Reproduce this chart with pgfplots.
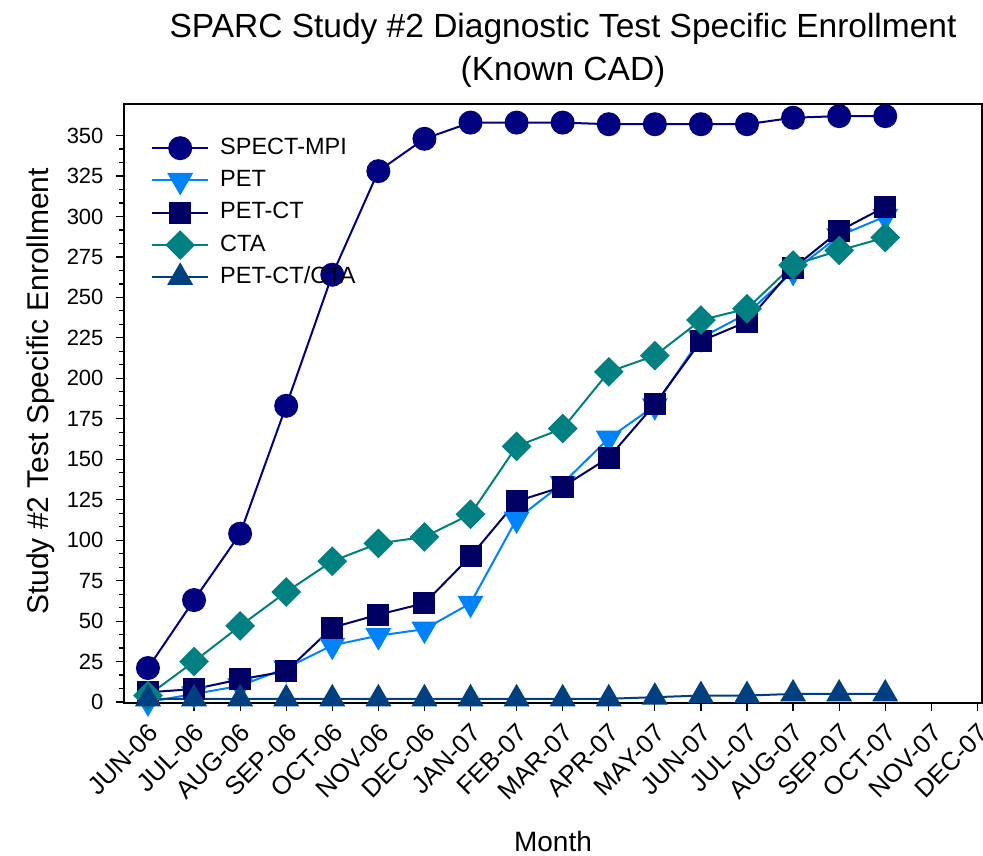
\documentclass[border=0pt]{standalone}
\usepackage{fontspec}
\setmainfont{Liberation Sans}
\usepackage{pgfplots}
\pgfplotsset{compat=1.18}
\definecolor{cSpect}{RGB}{0,0,128}
\definecolor{cPet}{RGB}{0,130,255}
\definecolor{cPetct}{RGB}{0,0,100}
\definecolor{cCta}{RGB}{0,128,128}
\definecolor{cBoth}{RGB}{0,64,128}
\begin{document}
\begin{tikzpicture}
\path[use as bounding box] (0pt,0pt) rectangle (983pt,856pt);
\begin{axis}[
  at={(124pt,153pt)}, anchor=south west,
  scale only axis, width=858pt, height=599pt,
  xmin=-0.52, xmax=18.1, ymin=-0.6, ymax=369.5,
  xtick={0,...,18},
  xticklabels={JUN-06,JUL-06,AUG-06,SEP-06,OCT-06,NOV-06,DEC-06,JAN-07,FEB-07,MAR-07,APR-07,MAY-07,JUN-07,JUL-07,AUG-07,SEP-07,OCT-07,NOV-07,DEC-07},
  ytick={0,25,...,350}, minor y tick num=2,
  xtick pos=bottom, ytick pos=left, tick align=outside,
  major tick length=8pt, minor tick length=5pt,
  every tick/.style={black, line width=1.2pt},
  axis line style={line width=1.5pt},
  /pgf/number format/assume math mode=true,
  yticklabel style={font=\fontsize{22}{26}\selectfont, anchor=east, xshift=-9pt},
  xticklabel style={font=\fontsize{25.5}{29}\selectfont, rotate=45, anchor=north east, xshift=-5pt, yshift=-4pt},
  title={SPARC Study \#2 Diagnostic Test Specific Enrollment\\(Known CAD)},
  title style={align=center, font=\fontsize{33.5}{43}\selectfont, at={(axis description cs:0.5117,1)}, anchor=south, inner sep=0pt, yshift=10pt},
  xlabel={Month},
  xlabel style={font=\fontsize{28}{32}\selectfont, at={(axis description cs:0.5,-0.232)}, anchor=center},
  ylabel={Study \#2 Test Specific Enrollment},
  ylabel style={font=\fontsize{30}{34}\selectfont, at={(axis description cs:-0.0967,0.52)}, anchor=center},
  clip=false,
  legend cell align=left,
  legend style={at={(axis description cs:0,1)}, anchor=north west, xshift=24pt, yshift=-28pt,
    draw=none, fill=none, font=\fontsize{23.5}{27}\selectfont,
    nodes={text height=18pt, text depth=6pt, inner sep=2pt}, row sep=4.3pt,
    /tikz/every odd column/.append style={column sep=9pt}},
  legend image code/.code={\draw[mark repeat=2,mark phase=2] plot coordinates {(0pt,0pt) (28pt,0pt) (56pt,0pt)};},
  every axis plot/.append style={line width=2pt},
]
\addplot[color=cSpect, mark=*, mark size=11pt] coordinates {
(0,21) (1,63) (2,104) (3,183) (4,264) (5,328) (6,348) (7,358) (8,358) (9,358) (10,357) (11,357) (12,357) (13,357) (14,361) (15,362) (16,362)};
\addlegendentry{SPECT-MPI}
\addplot[color=cPet, mark=triangle*, mark size=13pt, mark options={rotate=180}] coordinates {
(0,0) (1,5) (2,10) (3,21) (4,35) (5,41) (6,45) (7,61) (8,113) (9,135) (10,163) (11,183) (12,225) (13,240) (14,266) (15,288) (16,300)};
\addlegendentry{PET}
\addplot[color=cPetct, mark=square*, mark size=10pt] coordinates {
(0,6) (1,8) (2,14) (3,19) (4,46) (5,54) (6,61) (7,90) (8,124) (9,133) (10,151) (11,184) (12,223) (13,235) (14,268) (15,291) (16,306)};
\addlegendentry{PET-CT}
\addplot[color=cCta, mark=square*, mark size=9.5pt, mark options={rotate=45}] coordinates {
(0,4) (1,25) (2,47) (3,68) (4,87) (5,98) (6,102) (7,116) (8,158) (9,169) (10,204) (11,214) (12,236) (13,243) (14,270) (15,279) (16,287)};
\addlegendentry{CTA}
\addplot[color=cBoth, mark=triangle*, mark size=13pt] coordinates {
(0,2) (1,2) (2,2) (3,2) (4,2) (5,2) (6,2) (7,2) (8,2) (9,2) (10,2) (11,3) (12,4) (13,4) (14,5) (15,5) (16,5)};
\addlegendentry{PET-CT/CTA}
\end{axis}
\end{tikzpicture}
\end{document}
